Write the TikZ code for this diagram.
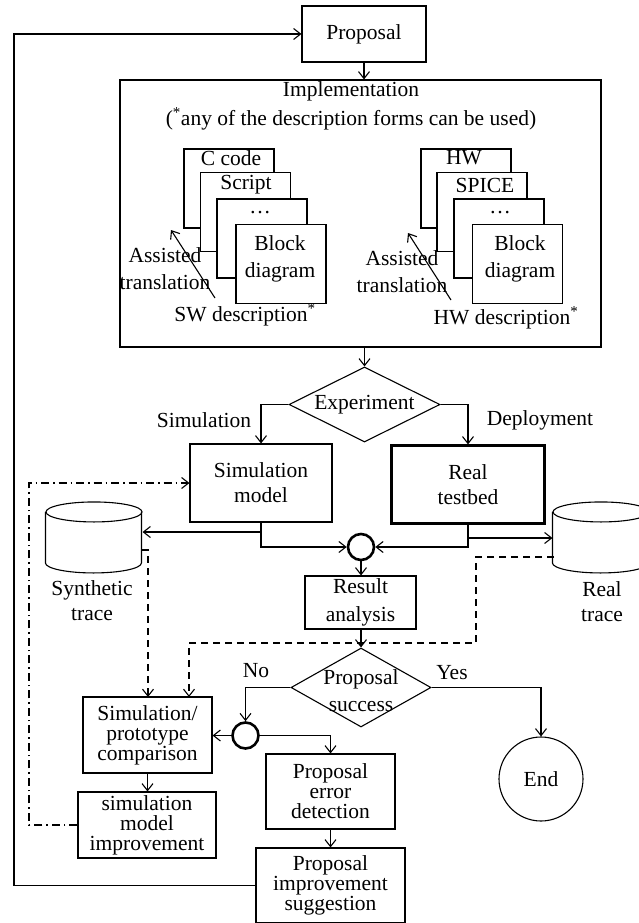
\documentclass[tikz,border=0pt]{standalone}
\usepackage{fontspec}
\setmainfont{Liberation Serif}
\usetikzlibrary{arrows.meta,shapes.geometric}

\begin{document}
\begin{tikzpicture}[x=1pt,y=-1pt,line width=1.1pt,
	font=\fontsize{21.5}{25}\selectfont,
	every node/.style={inner sep=0pt},
	arr/.style={-{Straight Barb[length=7pt,width=11pt]}},
	box/.style={draw,fill=white,align=center},
	docbox/.style={draw,fill=white,minimum width=90,minimum height=79},
	decision/.style={draw,diamond,aspect=2},
	store/.style={minimum width=96,minimum height=71},
	junction/.style={draw,circle,line width=2.6pt,minimum size=26},
	twolines/.style={align=center,font=\fontsize{21.5}{27}\selectfont},
	tight/.style={font=\fontsize{21.5}{20}\selectfont},
	dashedline/.style={dash pattern=on 7pt off 5pt},
	dashdotline/.style={dash pattern=on 8pt off 4pt on 1.5pt off 4pt}]
	\useasboundingbox (0,0) rectangle (638,923);
	
	\node[box,minimum width=124,minimum height=56] (prop) at (364,34) {Proposal};
	\node[draw,minimum width=481,minimum height=267] (impl) at (360.5,213.5) {};
	\node (impltitle) at (351,91) {Implementation};
	\node (implnote) at (351,119) {(\textsuperscript{*}any of the description forms can be used)};
	\draw[arr] (prop.south) -- (prop.south |- impl.north);
	
	\node[docbox] (ccode) at (229,188.5) {};
	\node (ccodetxt) at (231,158) {C code};
	\node[docbox] (script) at (245.5,212) {};
	\node (scripttxt) at (246,185) {Script};
	\node[docbox] (swdots) at (262,238.5) {};
	\node (swdotstxt) at (260,213) {\dots};
	\node[docbox] (swblock) at (281,264) {};
	\node[twolines] (swblocktxt) at (280,258.5) {Block\\diagram};
	\node[twolines] (swassist) at (165,268.5) {Assisted\\translation};
	\coordinate (swfrom) at (215,298);
	\coordinate (swto) at (171,230);
	\draw[arr] (swfrom) -- (swto);
	\node (swdesc) at (245,315) {SW description\textsuperscript{*}};
	
	\node[docbox] (hwcode) at (466,188.5) {};
	\node (hwcodetxt) at (464,158) {HW};
	\node[docbox] (spice) at (482,212) {};
	\node (spicetxt) at (485,185) {SPICE};
	\node[docbox] (hwdots) at (499,238.5) {};
	\node (hwdotstxt) at (500,213) {\dots};
	\node[docbox] (hwblock) at (517.5,264) {};
	\node[twolines] (hwblocktxt) at (520,258.5) {Block\\diagram};
	\node[twolines] (hwassist) at (402,271.5) {Assisted\\translation};
	\coordinate (hwfrom) at (451,300);
	\coordinate (hwto) at (408,233);
	\draw[arr] (hwfrom) -- (hwto);
	\node (hwdesc) at (506,318) {HW description\textsuperscript{*}};
	
	\node[decision,minimum width=151,minimum height=75] (exp) at (364.5,404.5) {Experiment};
	\draw[arr] (impl.south -| exp.north) -- (exp.north);
	\node (simlbl) at (204,420) {Simulation};
	\node (deplbl) at (540,420) {Deployment};
	\node[box,minimum width=142,minimum height=78] (sim) at (261,483) {Simulation\\model};
	\node[box,line width=2.2pt,minimum width=153,minimum height=78] (real) at (468,484.5) {Real\\testbed};
	\draw[arr] (exp.west) -| (sim.north);
	\draw[arr] (exp.east) -| (real.north);
	
	\node[store] (synth) at (94,538) {};
	\draw (synth.north) ++(0,10) ellipse [x radius=48pt,y radius=10pt];
	\draw (synth.north west) ++(0,10) -- ++(0,51) arc [start angle=180,end angle=360,x radius=48pt,y radius=10pt] -- ++(0,-51);
	\node[align=center] (synthtxt) at (92,601) {Synthetic\\trace};
	\node[store] (rtrace) at (601,538) {};
	\draw (rtrace.north) ++(0,10) ellipse [x radius=48pt,y radius=10pt];
	\draw (rtrace.north west) ++(0,10) -- ++(0,51) arc [start angle=180,end angle=360,x radius=48pt,y radius=10pt] -- ++(0,-51);
	\node[align=center] (rtracetxt) at (602,602) {Real\\trace};
	
	\node[junction] (join) at (361,547) {};
	\draw[arr] (sim.south) |- (join.west);
	\coordinate (simtap) at (261,532);
	\draw[arr] (simtap) -- (simtap -| synth.east);
	\draw[arr] (real.south) |- (join.east);
	\coordinate (realtap) at (468,538);
	\draw[arr] (realtap) -- (realtap -| rtrace.west);
	
	\node[box,twolines,font=\fontsize{21.5}{28}\selectfont,minimum width=111,minimum height=53] (result) at (360.5,602.5) {Result\\analysis};
	\draw[arr] (join.south) -- (join.south |- result.north);
	\node[decision,minimum width=140,minimum height=79] (succ) at (361,687.5) {};
	\node[twolines] (succtxt) at (361,691) {Proposal\\success};
	\draw[arr] (result.south) -- (result.south -| succ.north) -- (succ.north);
	\node (nolbl) at (256,671) {No};
	\node (yeslbl) at (452,673) {Yes};
	
	\node[box,tight,minimum width=129,minimum height=76] (simcomp) at (147.5,735) {Simulation/\\prototype\\comparison};
	\node[box,tight,minimum width=138,minimum height=66] (simimp) at (147,825) {simulation\\model\\improvement};
	\node[junction] (fork) at (245.5,735.5) {};
	\node[box,tight,minimum width=129,minimum height=75] (errdet) at (330.5,791.5) {Proposal\\error\\detection};
	\node[box,tight,minimum width=149,minimum height=75] (sugg) at (330.5,885.5) {Proposal\\improvement\\suggestion};
	\node[draw,circle,minimum size=84] (end) at (541,779) {End};
	
	\draw[arr] (succ.west) -| (fork.north);
	\draw[arr] (succ.east) -| (end.north);
	\draw[arr] (fork.west) -- (simcomp.east |- fork.west);
	\draw[arr] (fork.east) -| (errdet.north);
	\draw[arr] (simcomp.south) -- (simcomp.south |- simimp.north);
	\draw[arr] (errdet.south) -- (sugg.north);
	
	\coordinate (synthout) at (142,550);
	\coordinate (cmpin1) at (148,697);
	\coordinate (rtraceout) at (554,557);
	\coordinate (dashturn) at (476,643);
	\coordinate (cmpin2) at (189,697);
	\draw[dashedline,arr] (synthout) -| (cmpin1);
	\draw[dashedline,arr] (rtraceout) -| (dashturn) -| (cmpin2);
	
	\coordinate (dashdotcorner) at (29,825);
	\draw[dashdotline,arr] (simimp.west) -- (dashdotcorner) |- (sim.west);
	\coordinate (loopcorner) at (14,885.5);
	\draw[arr] (sugg.west) -- (loopcorner) |- (prop.west);
\end{tikzpicture}
\end{document}
